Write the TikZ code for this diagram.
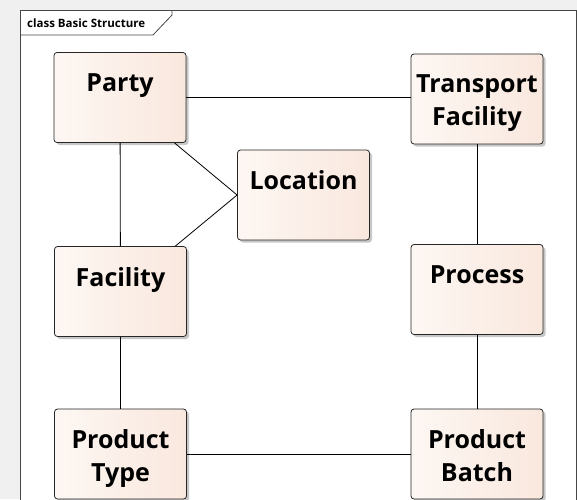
\documentclass[tikz,border=0pt]{standalone}
\usepackage{fontspec}
\setmainfont{Open Sans}
\usetikzlibrary{shadows}

\definecolor{peachL}{RGB}{253,247,243}
\definecolor{peachD}{RGB}{247,224,211}
\definecolor{framegray}{RGB}{70,70,70}
\pgfdeclarehorizontalshading{classfill}{100bp}{color(0bp)=(peachD); color(25bp)=(peachL); color(100bp)=(peachD)}

\tikzset{
  classbox/.style={draw=black!85, line width=0.8pt, rounded corners=3pt,
    minimum width=132pt, minimum height=90pt, inner sep=0pt, shading=classfill,
    drop shadow={shadow xshift=2.5pt, shadow yshift=-2.5pt, fill=black, opacity=0.22}},
  classname/.style={anchor=north, inner sep=0pt, align=center,
    font=\bfseries\fontsize{25}{33}\selectfont},
  assoc/.style={line width=0.8pt}
}

\begin{document}
\begin{tikzpicture}[x=1pt,y=-1pt]
      \useasboundingbox (0,0) rectangle (577,499);
      \clip (0,0) rectangle (577,499);

      % Draw the background and the frame
      \fill[gray!12] (0,0) rectangle (577,499);
      \draw[framegray, fill=white, line width=0.8pt] (20,10) rectangle (576,520);
      \draw[framegray, line width=0.8pt] (20,35) -- (153,35) -- (172,15) -- (172,10);
      \node[anchor=base west, inner sep=0pt, font=\bfseries\fontsize{11.5}{13}\selectfont] (title) at (27,27) {class Basic Structure};

      % Draw the classes
      \node[classbox] (party) at (120,97.5) {};
      \node[classbox] (transport) at (477,99) {};
      \node[classbox] (location) at (303.5,195) {};
      \node[classbox] (facility) at (120.5,291.5) {};
      \node[classbox] (process) at (477,289.5) {};
      \node[classbox] (ptype) at (120.5,454) {};
      \node[classbox] (pbatch) at (477,454) {};

      % Names
      \node[classname] (partyname) at ([yshift=-21pt]party.north) {Party};
      \node[classname] (transportname) at ([yshift=-21pt]transport.north) {Transport\\Facility};
      \node[classname] (locationname) at ([yshift=-21pt]location.north) {Location};
      \node[classname] (facilityname) at ([yshift=-21pt]facility.north) {Facility};
      \node[classname] (processname) at ([yshift=-21pt]process.north) {Process};
      \node[classname] (ptypename) at ([yshift=-21pt]ptype.north) {Product\\Type};
      \node[classname] (pbatchname) at ([yshift=-21pt]pbatch.north) {Product\\Batch};

      % Draw the associations
      \draw[assoc] (party.east) -- (party.east -| transport.west);
      \draw[assoc] (party) -- (facility);
      \draw[assoc] (party) -- (location.west);
      \draw[assoc] (facility) -- (location.west);
      \draw[assoc] (transport) -- (process);
      \draw[assoc] (facility) -- (ptype);
      \draw[assoc] (process) -- (pbatch);
      \draw[assoc] (ptype.east) -- (ptype.east -| pbatch.west);

\end{tikzpicture}
\end{document}
